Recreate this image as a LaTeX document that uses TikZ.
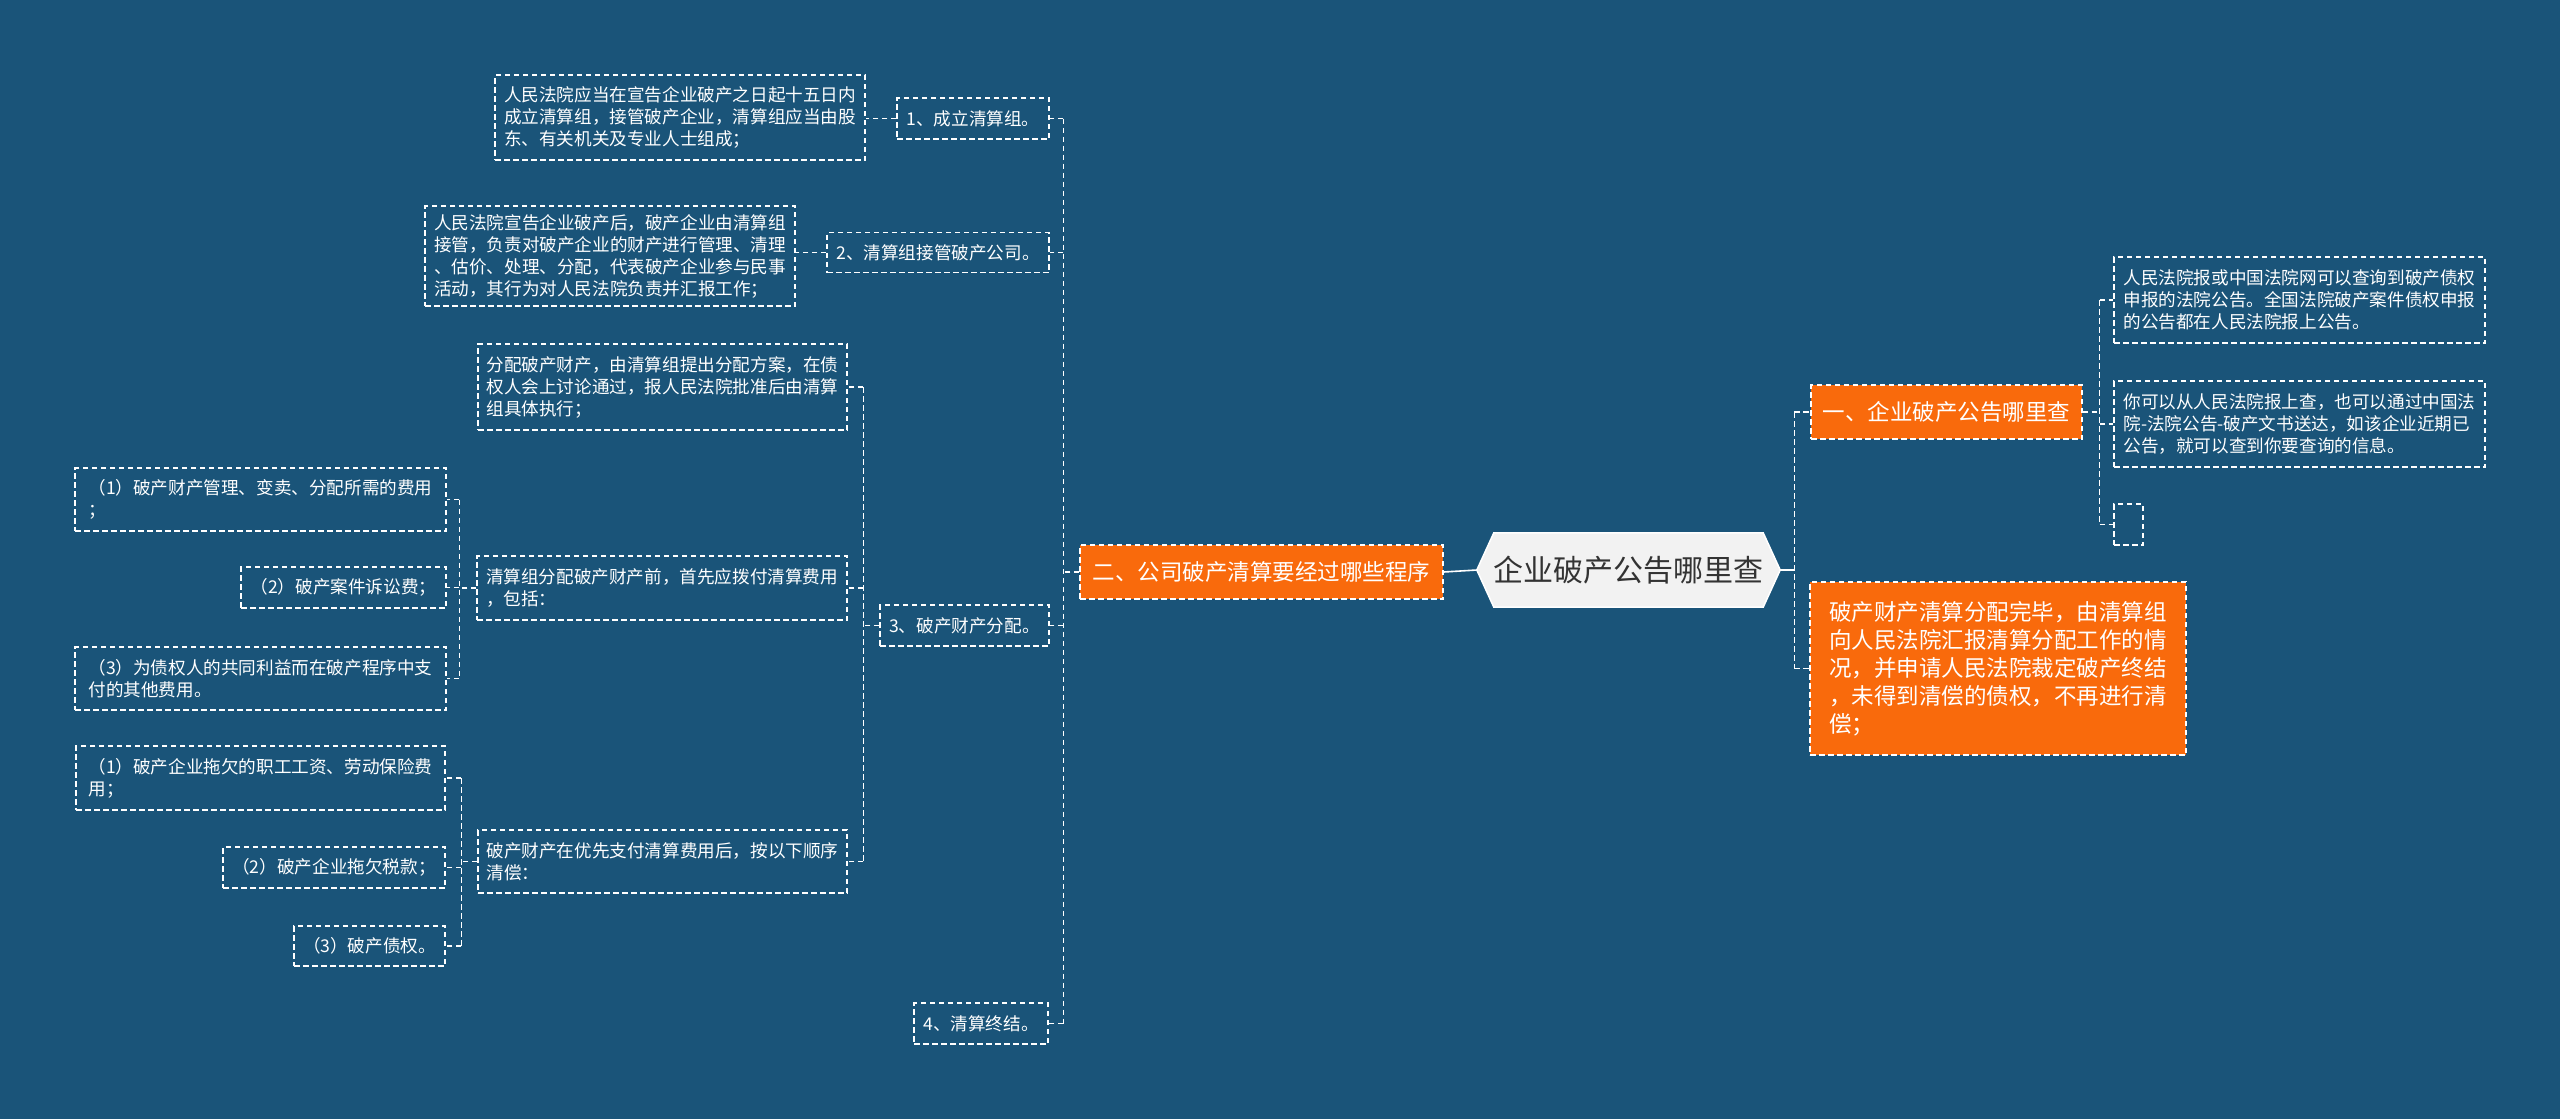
\documentclass[tikz,border=0pt]{standalone}
\usepackage{fontspec}
\newfontfamily\cjk{Noto Sans CJK SC}
\usetikzlibrary{backgrounds}
\definecolor{bgblue}{HTML}{1A5479}
\definecolor{orangeA}{HTML}{F96A0C}
\definecolor{hexfill}{HTML}{F2F2F2}
\definecolor{darktext}{HTML}{333333}
\begin{document}
\begin{tikzpicture}[x=1pt,y=-1pt,
  box/.style={draw=white, dash pattern=on 5.5pt off 3.5pt, line width=1.3pt, text=white,
    inner xsep=6pt, inner ysep=4pt, align=left, font=\cjk\fontsize{17.6}{22}\selectfont},
  obox/.style={box, fill=orangeA, font=\cjk\fontsize{22.5}{28}\selectfont},
  conn/.style={draw=white, dash pattern=on 5.5pt off 3.5pt, line width=1.3pt},
  solidconn/.style={draw=white, line width=1.6pt}]
\useasboundingbox (0,0) rectangle (2560,1119);

% center
\node[font=\cjk\fontsize{30}{36}\selectfont, text=darktext, minimum width=303pt, minimum height=74pt, inner sep=0pt] (ctr) at (1628.5,570) {企业破产公告哪里查};

% right side
\node[obox, minimum width=271pt, minimum height=54pt] (R1) at (1946.5,412) {一、企业破产公告哪里查};
\node[obox, minimum width=376pt, minimum height=173pt] (R2) at (1998,668.5) {破产财产清算分配完毕，由清算组\\向人民法院汇报清算分配工作的情\\况，并申请人民法院裁定破产终结\\，未得到清偿的债权，不再进行清\\偿；};
\node[box, minimum width=371pt, minimum height=86pt] (R1a) at (2299.5,300) {人民法院报或中国法院网可以查询到破产债权\\申报的法院公告。全国法院破产案件债权申报\\的公告都在人民法院报上公告。};
\node[box, minimum width=371pt, minimum height=86pt] (R1b) at (2299.5,424) {你可以从人民法院报上查，也可以通过中国法\\院-法院公告-破产文书送达，如该企业近期已\\公告，就可以查到你要查询的信息。};
\node[box, inner sep=0pt, minimum width=29pt, minimum height=41pt] (R1c) at (2128.5,524.5) {};

% left side
\node[obox, minimum width=363pt, minimum height=54pt] (L) at (1261.5,572) {二、公司破产清算要经过哪些程序};
\node[box, minimum width=152pt, minimum height=41pt] (N1) at (973,118.5) {1、成立清算组。};
\node[box, minimum width=222pt, minimum height=40pt] (N2) at (938,252.5) {2、清算组接管破产公司。};
\node[box, minimum width=169pt, minimum height=41pt] (N3) at (964.5,625.5) {3、破产财产分配。};
\node[box, minimum width=134pt, minimum height=41pt] (N4) at (981,1023.5) {4、清算终结。};

\node[box, minimum width=370pt, minimum height=85pt] (D1) at (680,117.5) {人民法院应当在宣告企业破产之日起十五日内\\成立清算组，接管破产企业，清算组应当由股\\东、有关机关及专业人士组成；};
\node[box, minimum width=370pt, minimum height=100pt] (D2) at (610,256) {人民法院宣告企业破产后，破产企业由清算组\\接管，负责对破产企业的财产进行管理、清理\\、估价、处理、分配，代表破产企业参与民事\\活动，其行为对人民法院负责并汇报工作；};

\node[box, minimum width=369pt, minimum height=86pt] (D3a) at (662.5,387) {分配破产财产，由清算组提出分配方案，在债\\权人会上讨论通过，报人民法院批准后由清算\\组具体执行；};
\node[box, minimum width=370pt, minimum height=64pt] (D3b) at (662,588) {清算组分配破产财产前，首先应拨付清算费用\\，包括：};
\node[box, minimum width=369pt, minimum height=63pt] (D3c) at (662.5,861.5) {破产财产在优先支付清算费用后，按以下顺序\\清偿：};

\node[box, minimum width=371pt, minimum height=63pt] (E1) at (260.5,499.5) {（1）破产财产管理、变卖、分配所需的费用\\；};
\node[box, minimum width=205pt, minimum height=41pt] (E2) at (343.5,587.5) {（2）破产案件诉讼费；};
\node[box, minimum width=371pt, minimum height=63pt] (E3) at (260.5,678.5) {（3）为债权人的共同利益而在破产程序中支\\付的其他费用。};

\node[box, minimum width=369pt, minimum height=64pt] (F1) at (260.5,778) {（1）破产企业拖欠的职工工资、劳动保险费\\用；};
\node[box, minimum width=222pt, minimum height=41pt] (F2) at (334,867.5) {（2）破产企业拖欠税款；};
\node[box, minimum width=151pt, minimum height=40pt] (F3) at (369.5,946) {（3）破产债权。};

% connectors
\draw[solidconn] (L.east) -- (ctr.west);
\draw[solidconn] (ctr.east) -- ++(14,0) coordinate (jR);
\draw[conn] (jR |- R1.west) -- (jR |- R2.west);
\draw[conn] (jR |- R1.west) -- (R1.west);
\draw[conn] (jR |- R2.west) -- (R2.west);

\draw[conn] (R1.east) -- ++(17,0) coordinate (jR1);
\draw[conn] (jR1 |- R1a.west) -- (jR1 |- R1c.west);
\draw[conn] (jR1 |- R1a.west) -- (R1a.west);
\draw[conn] (jR1 |- R1b.west) -- (R1b.west);
\draw[conn] (jR1 |- R1c.west) -- (R1c.west);

\draw[conn] (L.west) -- ++(-16,0) coordinate (jL);
\draw[conn] (jL |- N1.east) -- (jL |- N4.east);
\draw[conn] (jL |- N1.east) -- (N1.east);
\draw[conn] (jL |- N2.east) -- (N2.east);
\draw[conn] (jL |- N3.east) -- (N3.east);
\draw[conn] (jL |- N4.east) -- (N4.east);

\draw[conn] (N1.west) -- (N1.west -| D1.east);
\draw[conn] (N2.west) -- (N2.west -| D2.east);

\draw[conn] (N3.west) -- ++(-16,0) coordinate (jN3);
\draw[conn] (jN3 |- D3a.east) -- (jN3 |- D3c.east);
\draw[conn] (jN3 |- D3a.east) -- (D3a.east);
\draw[conn] (jN3 |- D3b.east) -- (D3b.east);
\draw[conn] (jN3 |- D3c.east) -- (D3c.east);

\draw[conn] (D3b.west) -- ++(-17,0) coordinate (jB);
\draw[conn] (jB |- E1.east) -- (jB |- E3.east);
\draw[conn] (jB |- E1.east) -- (E1.east);
\draw[conn] (jB |- E2.east) -- (E2.east);
\draw[conn] (jB |- E3.east) -- (E3.east);

\draw[conn] (D3c.west) -- ++(-16,0) coordinate (jC);
\draw[conn] (jC |- F1.east) -- (jC |- F3.east);
\draw[conn] (jC |- F1.east) -- (F1.east);
\draw[conn] (jC |- F2.east) -- (F2.east);
\draw[conn] (jC |- F3.east) -- (F3.east);

\begin{scope}[on background layer]
\fill[bgblue] (0,0) rectangle (2560,1119);
\filldraw[fill=hexfill, draw=white, line width=1.5pt] (ctr.west) -- ([xshift=17pt]ctr.north west) -- ([xshift=-17pt]ctr.north east) -- (ctr.east) -- ([xshift=-17pt]ctr.south east) -- ([xshift=17pt]ctr.south west) -- cycle;
\end{scope}
\end{tikzpicture}
\end{document}
